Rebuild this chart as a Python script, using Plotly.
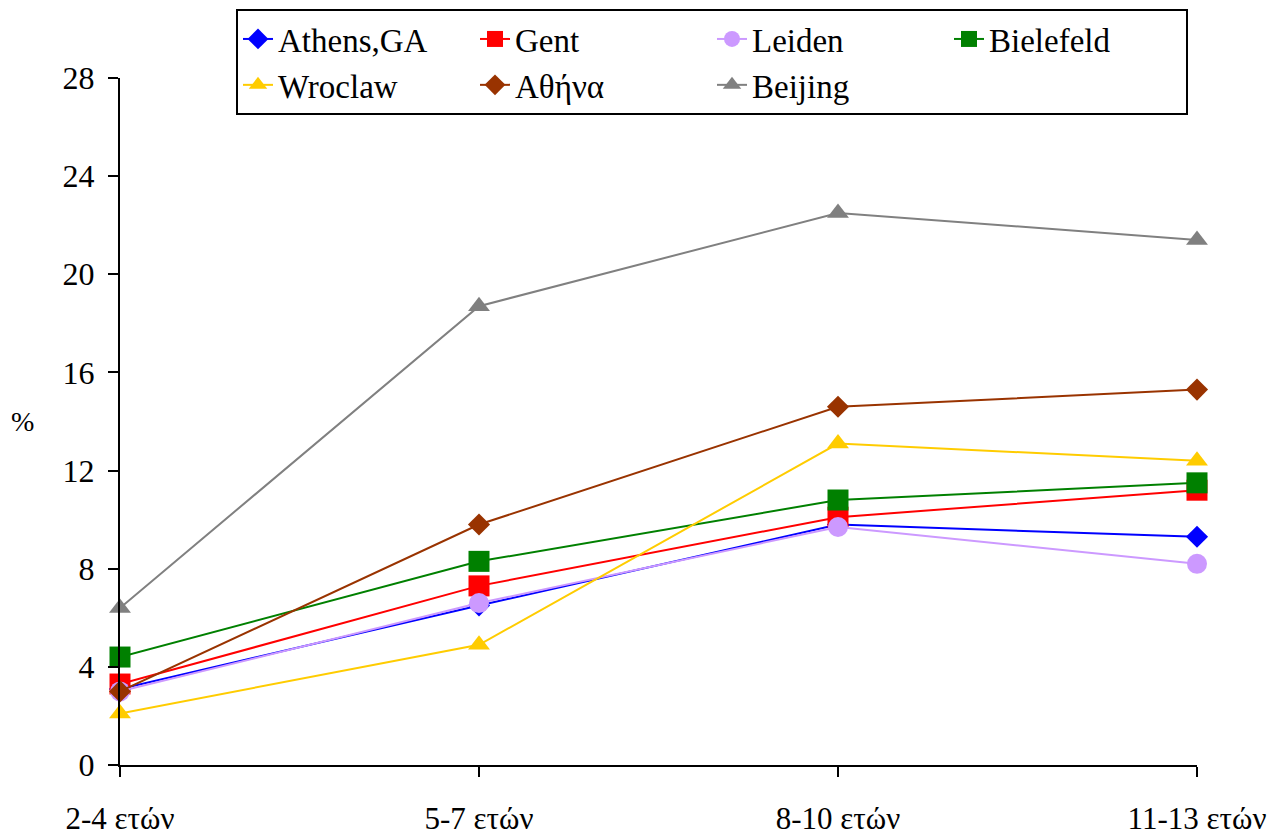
import plotly.graph_objects as go

categories = ["2-4 ετών", "5-7 ετών", "8-10 ετών", "11-13 ετών"]

athens_ga = [3.1, 6.5, 9.8, 9.3]
gent = [3.3, 7.3, 10.1, 11.2]
leiden = [3.0, 6.6, 9.7, 8.2]
bielefeld = [4.4, 8.3, 10.8, 11.5]
wroclaw = [2.1, 4.9, 13.1, 12.4]
athina = [3.0, 9.8, 14.6, 15.3]
beijing = [6.4, 18.7, 22.5, 21.4]

y_ticks = [0, 4, 8, 12, 16, 20, 24, 28]

series = [
    ("Athens,GA", athens_ga, "#0000FF", "diamond", 17),
    ("Gent", gent, "#FF0000", "square", 21),
    ("Leiden", leiden, "#CC99FF", "circle", 20),
    ("Bielefeld", bielefeld, "#008000", "square", 21),
    ("Wroclaw", wroclaw, "#FFCC00", "triangle-up", 19),
    ("Αθήνα", athina, "#993300", "diamond", 17),
    ("Beijing", beijing, "#808080", "triangle-up", 19),
]

FONT = "Liberation Serif"

fig = go.Figure()
for name, vals, color, sym, size in series:
    fig.add_trace(go.Scatter(
        x=categories, y=vals, name=name, mode="lines+markers",
        line=dict(color=color, width=2),
        marker=dict(symbol=sym, size=size, color=color),
        cliponaxis=False,
    ))

# page has an 8px body margin: figure is 8px smaller and all offsets shifted
fig.update_layout(
    template="none",
    width=1280, height=829,
    margin=dict(l=112, r=91, t=70, b=72, autoexpand=False),
    font=dict(family=FONT, size=30, color="black"),
    showlegend=True,
    legend=dict(
        orientation="h", x=(236 - 120) / 1077, xanchor="left",
        y=(765 - 9) / 687, yanchor="top",
        bordercolor="black", borderwidth=2,
        font=dict(family=FONT, size=33),
        entrywidth=192, entrywidthmode="pixels",
    ),
    xaxis=dict(
        type="category", range=[0, 3], showgrid=False, zeroline=False,
        showline=True, linecolor="black", linewidth=2,
        ticks="outside", ticklen=10, tickwidth=2, tickcolor="black",
        ticklabelstandoff=15,
        tickfont=dict(family=FONT, size=31),
    ),
    yaxis=dict(
        range=[0, 28], tickmode="array", tickvals=y_ticks,
        showgrid=False, zeroline=False,
        showline=True, linecolor="black", linewidth=2,
        ticks="outside", ticklen=10, tickwidth=2, tickcolor="black",
        ticklabelstandoff=7,
        tickfont=dict(family=FONT, size=32),
    ),
    annotations=[dict(
        text="%", xref="paper", yref="paper", x=(22 - 120) / 1077, y=0.5,
        xanchor="center", yanchor="middle",
        showarrow=False, font=dict(family=FONT, size=28),
    )],
)

fig.write_html("out.html")
